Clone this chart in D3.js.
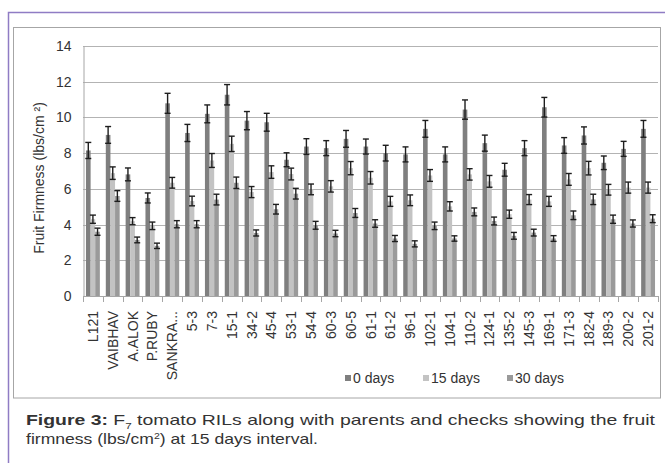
<!DOCTYPE html>
<html>
<head>
<meta charset="utf-8">
<script src="https://cdn.jsdelivr.net/npm/d3@7"></script>
<style>
  body { margin: 0; background: #fff; }
  svg { display: block; }
  text { font-family: "Liberation Sans", Arial, sans-serif; fill: #333; }
</style>
</head>
<body>
<svg id="chart" width="665" height="463"></svg>
<script>
const categories = ["L121","VAIBHAV","A.ALOK","P.RUBY","SANKRA...","5-3","7-3","15-1","34-2","45-4","53-1","54-4","60-3","60-5","61-1","61-2","96-1","102-1","104-1","110-2","124-1","135-2","145-3","169-1","171-3","182-4","189-3","200-2","201-2"];
const seriesNames = ["0 days", "15 days", "30 days"];
const day0  = [8.15,9.02,6.81,5.49,10.79,9.13,10.2,11.27,9.82,9.73,7.63,8.37,8.28,8.8,8.37,8.0,7.93,9.36,7.93,10.44,8.56,7.07,8.28,10.57,8.43,8.99,7.46,8.24,9.36];
const day15 = [4.3,6.88,4.19,3.93,6.34,5.32,7.59,8.52,5.82,6.94,6.83,5.97,6.14,7.16,6.62,5.3,5.36,6.75,5.02,6.81,6.42,4.58,5.4,5.3,6.53,7.16,5.95,6.07,6.07];
const day30 = [3.6,5.6,3.14,2.81,4.02,4.02,5.4,6.34,3.53,4.86,5.73,3.96,3.5,4.65,4.06,3.22,2.92,3.93,3.22,4.71,4.2,3.37,3.55,3.22,4.52,5.41,4.3,4.06,4.33];
const err0  = [0.45,0.47,0.36,0.28,0.56,0.48,0.5,0.57,0.51,0.5,0.39,0.44,0.42,0.47,0.42,0.44,0.42,0.47,0.42,0.54,0.45,0.36,0.42,0.55,0.44,0.48,0.38,0.42,0.47];
const err15 = [0.23,0.35,0.2,0.21,0.3,0.27,0.39,0.43,0.31,0.35,0.33,0.3,0.32,0.37,0.35,0.28,0.3,0.33,0.26,0.32,0.33,0.23,0.28,0.28,0.33,0.38,0.3,0.31,0.31];
const err30 = [0.2,0.3,0.16,0.15,0.2,0.2,0.3,0.32,0.17,0.27,0.3,0.22,0.18,0.25,0.21,0.17,0.17,0.21,0.15,0.22,0.22,0.19,0.19,0.16,0.24,0.29,0.23,0.2,0.22];
const yTicks = [0, 2, 4, 6, 8, 10, 12, 14];

const colors = ["#7f7f7f", "#c3c3c3", "#9a9a9a"];
const values = [day0, day15, day30];
const errors = [err0, err15, err30];

const svg = d3.select("#chart");

// outer purple frame and chart box
svg.append("path")
  .attr("d", "M8.5,463 V12.5 H665")
  .attr("fill", "none").attr("stroke", "#8f7cc4").attr("stroke-width", 1.5);
svg.append("rect")
  .attr("x", 13.5).attr("y", 27.5).attr("width", 647).attr("height", 370.5)
  .attr("fill", "#fff").attr("stroke", "#a6a6a6");

const x = d3.scaleBand().domain(categories).range([83, 658]);
const xs = d3.scaleBand().domain(seriesNames)
  .range([x.bandwidth() * 0.15, x.bandwidth() * 0.85]);
const y = d3.scaleLinear().domain([0, 14]).range([296, 46]);

// gridlines
svg.append("g").selectAll("line").data(yTicks.slice(1)).join("line")
  .attr("x1", 83).attr("x2", 658)
  .attr("y1", d => Math.round(y(d)) + 0.5).attr("y2", d => Math.round(y(d)) + 0.5)
  .attr("stroke", "#b3b3b3");

// y axis
const yAxis = svg.append("g").attr("transform", "translate(83.5,0)")
  .call(d3.axisLeft(y).tickValues(yTicks).tickSize(0).tickPadding(12));
yAxis.select(".domain").attr("stroke", "#a6a6a6");
yAxis.selectAll("text").attr("font-size", 14).attr("fill", "#333")
  .attr("font-family", "Liberation Sans, Arial, sans-serif");

// bars
const groups = svg.append("g").selectAll("g").data(categories).join("g")
  .attr("transform", d => `translate(${x(d)},0)`);

seriesNames.forEach((s, si) => {
  groups.append("rect")
    .attr("x", xs(s)).attr("width", xs.bandwidth())
    .attr("y", (d, i) => y(values[si][i]))
    .attr("height", (d, i) => y(0) - y(values[si][i]))
    .attr("fill", colors[si]);
});

// error bars
seriesNames.forEach((s, si) => {
  const cx = xs(s) + xs.bandwidth() / 2;
  const eb = groups.append("g").attr("stroke", "#1e1e1e").attr("stroke-width", 1.4);
  eb.append("line")
    .attr("x1", cx).attr("x2", cx)
    .attr("y1", (d, i) => y(values[si][i] + errors[si][i]))
    .attr("y2", (d, i) => y(values[si][i] - errors[si][i]));
  [1, -1].forEach(sg => {
    eb.append("line")
      .attr("x1", cx - 3).attr("x2", cx + 3)
      .attr("y1", (d, i) => y(values[si][i] + sg * errors[si][i]))
      .attr("y2", (d, i) => y(values[si][i] + sg * errors[si][i]));
  });
});

// x axis
svg.append("line").attr("x1", 83).attr("x2", 658)
  .attr("y1", 296.5).attr("y2", 296.5).attr("stroke", "#a6a6a6");
const bounds = categories.map(c => x(c)).concat([x.range()[1]]);
svg.append("g").selectAll("line").data(bounds).join("line")
  .attr("x1", d => Math.round(d) + 0.5).attr("x2", d => Math.round(d) + 0.5)
  .attr("y1", 296).attr("y2", 302).attr("stroke", "#a6a6a6");
svg.append("g").selectAll("text").data(categories).join("text")
  .attr("transform", d => `translate(${x(d) + x.bandwidth() / 2 + 5},311) rotate(-90)`)
  .attr("text-anchor", "end").attr("font-size", 14)
  .text(d => d);

// y title
svg.append("text")
  .attr("transform", "translate(44,178) rotate(-90)")
  .attr("text-anchor", "middle").attr("font-size", 14)
  .text("Fruit Firmness (lbs/cm ²)");

// legend
const legendX = [345, 423, 507];
const lg = svg.append("g").selectAll("g").data(seriesNames).join("g")
  .attr("transform", (d, i) => `translate(${legendX[i]},375)`);
lg.append("rect").attr("width", 6).attr("height", 6).attr("fill", (d, i) => colors[i]);
lg.append("text").attr("x", 8).attr("y", 8).attr("font-size", 14).text(d => d);

// caption
const cap = svg.append("g").attr("font-family", "'Liberation Sans Narrow', 'Arial Narrow', 'Liberation Sans', sans-serif");
const l1 = cap.append("text").attr("x", 26).attr("y", 425).attr("font-size", 15)
  .attr("textLength", 629).attr("lengthAdjust", "spacingAndGlyphs");
l1.append("tspan").attr("font-weight", "bold").text("Figure 3:");
l1.append("tspan").text(" F");
l1.append("tspan").attr("dy", 4).attr("font-size", 9).text("7");
l1.append("tspan").attr("dy", -4).text(" tomato RILs along with parents and checks showing the fruit");
const l2 = cap.append("text").attr("x", 26).attr("y", 444).attr("font-size", 15)
  .attr("textLength", 292).attr("lengthAdjust", "spacingAndGlyphs");
l2.append("tspan").text("firmness (lbs/cm");
l2.append("tspan").attr("dy", -5).attr("font-size", 9).text("2");
l2.append("tspan").attr("dy", 5).text(") at 15 days interval.");
</script>
</body>
</html>
